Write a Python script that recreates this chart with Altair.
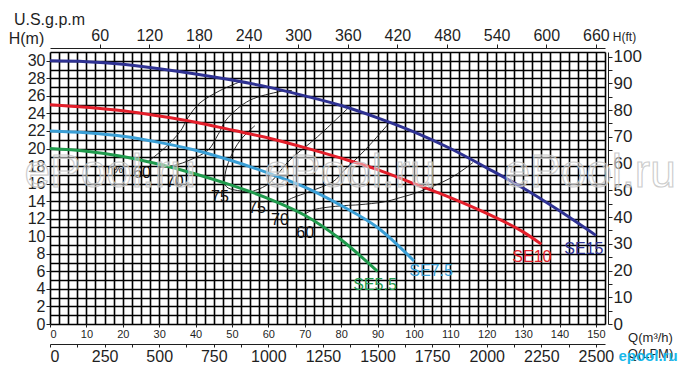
import altair as alt
import pandas as pd

FONT = "Liberation Sans"
INK = "#1f1f1f"

# ---- pump curves (Q m3/h, H m) ----
se15_q = [0, 10, 20, 30, 40, 50, 60, 70, 80, 90, 100, 110, 120, 130, 140, 150]
se15_h = [30.0, 29.9, 29.6, 29.1, 28.5, 27.8, 27.0, 26.0, 24.9, 23.5, 21.9, 20.0, 17.8, 15.5, 12.9, 10.1]
se10_q = [0, 10, 20, 30, 40, 50, 60, 70, 80, 90, 100, 110, 120, 130, 135]
se10_h = [25.0, 24.7, 24.3, 23.7, 23.0, 22.1, 21.2, 20.1, 18.9, 17.6, 16.0, 14.4, 12.6, 10.5, 9.1]
se75_q = [0, 10, 20, 30, 40, 50, 60, 70, 80, 90, 100]
se75_h = [22.0, 21.8, 21.4, 20.7, 19.8, 18.6, 17.2, 15.6, 13.5, 11.0, 7.2]
se55_q = [0, 10, 20, 30, 40, 50, 60, 70, 80, 90]
se55_h = [20.0, 19.7, 19.1, 18.2, 17.1, 15.8, 14.3, 12.4, 9.6, 6.0]

pump_names = ["SE15", "SE10", "SE7.5", "SE5.5"]
pump_colors = ["#2e3192", "#e31e2a", "#3a9fd6", "#1f9a4c"]
label_q = [146.7, 132.4, 104.7, 89.3]
label_h = [8.5, 7.6, 6.0, 4.4]

# ---- efficiency contours ----
eff60l_q = [26.9, 31.6, 35.7, 37.9, 41.2, 46.7, 52.2]
eff60l_h = [18.5, 20.1, 21.9, 23.5, 25.2, 26.6, 27.6]
eff70l_q = [29.7, 34.3, 38.5, 43.4, 46.2, 48.9, 54.9, 63.2, 66.5]
eff70l_h = [17.8, 18.1, 18.7, 19.8, 21.6, 23.5, 25.5, 26.5, 26.6]
eff75_q = [56.3, 52.2, 49.5, 48.1, 48.6, 53.3, 55.5, 60.4, 65.9, 71.4, 75.0, 81.9]
eff75_h = [22.6, 20.9, 18.9, 17.0, 15.6, 15.1, 15.1, 16.1, 18.7, 20.6, 21.9, 24.6]
eff70r_q = [64.0, 66.8, 71.4, 77.7, 81.0, 86.5, 93.4]
eff70r_h = [13.8, 14.4, 15.1, 16.2, 17.6, 19.8, 23.0]
eff60r_q = [69.5, 72.3, 76.1, 81.0, 85.2, 91.5, 96.2, 101.6, 109.9, 116.2]
eff60r_h = [12.4, 13.0, 13.3, 13.5, 13.6, 13.9, 14.4, 15.1, 16.6, 18.4]

eff_text = ["η%", "60", "70", "75", "75", "70", "60"]
eff_text_q = [17.9, 25.3, 34.3, 46.7, 56.9, 63.2, 70.1]
eff_text_h = [17.6, 17.2, 16.2, 14.5, 13.2, 11.9, 10.4]

# ---- axes ----
q_ticks = list(range(0, 151, 10))
lpm_ticks = list(range(0, 2501, 125))
gpm_ticks = list(range(60, 661, 60))
hm_ticks = list(range(0, 31, 2))
hft_ticks = list(range(0, 101, 5))
grid_q = [i * 2.5 for i in range(62)]
grid_h = list(range(0, 32))

watermark_q = [16.5, 82.4, 148.4]
watermark_h = [17.2, 17.2, 17.2]

Q_MAX = 152.5
H_MAX = 31.0
W, H = 555, 272

xs = alt.Scale(domain=[0, Q_MAX], nice=False, zero=False)
ys = alt.Scale(domain=[0, H_MAX], nice=False, zero=False)

rows = []
for name, qq, hh in [("SE15", se15_q, se15_h), ("SE10", se10_q, se10_h),
                     ("SE7.5", se75_q, se75_h), ("SE5.5", se55_q, se55_h)]:
    for a, b in zip(qq, hh):
        rows.append({"pump": name, "q": a, "h": b})
curves = pd.DataFrame(rows)

erows = []
for name, qq, hh in [("60l", eff60l_q, eff60l_h), ("70l", eff70l_q, eff70l_h),
                     ("75", eff75_q, eff75_h), ("70r", eff70r_q, eff70r_h),
                     ("60r", eff60r_q, eff60r_h)]:
    for i, (a, b) in enumerate(zip(qq, hh)):
        erows.append({"c": name, "i": i, "q": a, "h": b})
eff = pd.DataFrame(erows)

one = pd.DataFrame({"q": [0.0], "h": [0.0], "lpm": [0.0], "gpm": [0.0], "ft": [0.0]})

def blank_axis(**kw):
    base = dict(labels=False, ticks=False, domain=False, grid=False, title=None)
    base.update(kw)
    return alt.Axis(**base)

grid_layer = alt.Chart(one).mark_point(opacity=0).encode(
    x=alt.X("q:Q", scale=xs, axis=blank_axis(orient="bottom", grid=True, values=grid_q,
                                             gridColor="#000", gridWidth=1.6, gridOpacity=1)),
    y=alt.Y("h:Q", scale=ys, axis=blank_axis(orient="left", grid=True, values=grid_h,
                                             gridColor="#000", gridWidth=1.6, gridOpacity=1)),
)

q_axis_layer = alt.Chart(one).mark_point(opacity=0).encode(
    x=alt.X("q:Q", scale=xs, axis=alt.Axis(
        orient="bottom", values=q_ticks, grid=False, domain=False, tickSize=3,
        tickColor=INK, labelFontSize=11, labelFont=FONT, labelColor=INK, labelPadding=1,
        title="Q(m³/h)", titleFont=FONT, titleFontSize=13, titleFontWeight="normal",
        titleColor=INK, titleX=600, titleY=13, titleAlign="center", titleBaseline="middle")),
    y=alt.Y("h:Q", scale=ys, axis=alt.Axis(
        orient="left", values=hm_ticks, grid=False, domain=False, tickSize=4,
        tickColor=INK, labelFontSize=16, labelFont=FONT, labelColor=INK, labelPadding=1,
        title="H(m)", titleFont=FONT, titleFontSize=16, titleFontWeight="normal",
        titleColor=INK, titleAngle=0, titleX=-24, titleY=-14, titleAlign="center",
        titleBaseline="middle")),
)

lpm_layer = alt.Chart(one).mark_point(opacity=0).encode(
    x=alt.X("lpm:Q", scale=alt.Scale(domain=[0, Q_MAX * 1000 / 60], nice=False, zero=False),
            axis=alt.Axis(orient="bottom", offset=20, values=lpm_ticks, grid=False,
                          domain=True, domainColor=INK, domainWidth=1, tickSize=3,
                          tickColor=INK, labelFontSize=16, labelFont=FONT, labelColor=INK,
                          labelPadding=1, format="d",
                          labelExpr="datum.value % 250 == 0 ? datum.label : ''",
                          title="Q(LPM)", titleFont=FONT, titleFontSize=13,
                          titleFontWeight="normal", titleColor=INK, titleX=600, titleY=9,
                          titleAlign="center", titleBaseline="middle")),
)

gpm_layer = alt.Chart(one).mark_point(opacity=0).encode(
    x=alt.X("gpm:Q", scale=alt.Scale(domain=[0, Q_MAX * 4.4], nice=False, zero=False),
            axis=alt.Axis(orient="top", offset=4, values=gpm_ticks, grid=False,
                          domain=True, domainColor=INK, domainWidth=1, tickSize=4,
                          tickColor=INK, labelFontSize=16, labelFont=FONT, labelColor=INK,
                          labelPadding=1,
                          title="U.S.g.p.m", titleFont=FONT, titleFontSize=16,
                          titleFontWeight="normal", titleColor=INK, titleX=-1, titleY=-29,
                          titleAlign="center", titleBaseline="middle")),
    y=alt.Y("ft:Q", scale=alt.Scale(domain=[0, H_MAX * 3.28084], nice=False, zero=False),
            axis=alt.Axis(orient="right", offset=3, values=hft_ticks, grid=False,
                          domain=True, domainColor=INK, domainWidth=1, tickSize=4,
                          tickColor=INK, labelFontSize=17, labelFont=FONT, labelColor=INK,
                          labelPadding=1,
                          labelExpr="datum.value % 10 == 0 ? datum.label : ''",
                          title="H(ft)", titleFont=FONT, titleFontSize=12,
                          titleFontWeight="normal", titleColor=INK, titleAngle=0,
                          titleX=16, titleY=-16, titleAlign="center", titleBaseline="middle")),
)

color = alt.Color("pump:N", scale=alt.Scale(domain=pump_names, range=pump_colors), legend=None)

eff_layer = alt.Chart(eff).mark_line(color="#111", strokeWidth=0.9, interpolate="cardinal").encode(
    x=alt.X("q:Q", scale=xs, axis=None),
    y=alt.Y("h:Q", scale=ys, axis=None),
    detail="c:N",
    order="i:Q",
)

curve_layer = alt.Chart(curves).mark_line(strokeWidth=3, interpolate="monotone").encode(
    x=alt.X("q:Q", scale=xs, axis=None),
    y=alt.Y("h:Q", scale=ys, axis=None),
    color=color,
)

plabels = pd.DataFrame({"pump": pump_names, "q": label_q, "h": label_h})
plabel_layer = alt.Chart(plabels).mark_text(font=FONT, fontSize=16).encode(
    x=alt.X("q:Q", scale=xs, axis=None),
    y=alt.Y("h:Q", scale=ys, axis=None),
    text="pump:N",
    color=color,
)

etext = pd.DataFrame({"t": eff_text, "q": eff_text_q, "h": eff_text_h,
                      "s": [11, 16, 16, 16, 16, 16, 16]})
etext_layer = alt.Chart(etext).mark_text(font=FONT, color="#111").encode(
    x=alt.X("q:Q", scale=xs, axis=None),
    y=alt.Y("h:Q", scale=ys, axis=None),
    text="t:N",
    size=alt.Size("s:Q", scale=None, legend=None),
)

wm = pd.DataFrame({"q": watermark_q, "h": watermark_h, "t": ["ePool.ru"] * 3})
wm_layer = alt.Chart(wm).mark_text(
    font=FONT, fontSize=46, fill="white", fillOpacity=0.45, stroke="#c4c4c4",
    strokeWidth=1.2, strokeOpacity=0.85
).encode(
    x=alt.X("q:Q", scale=xs, axis=None),
    y=alt.Y("h:Q", scale=ys, axis=None),
    text="t:N",
)

logo_layer = alt.Chart(pd.DataFrame({"t": ["epool.ru"]})).mark_text(
    font=FONT, fontSize=15, fontWeight="bold", color="#1ab8ea", align="center",
    baseline="middle"
).encode(
    x=alt.value(598), y=alt.value(304), text="t:N"
)

chart = alt.layer(
    grid_layer, q_axis_layer, lpm_layer, gpm_layer,
    eff_layer, curve_layer, plabel_layer, etext_layer, wm_layer, logo_layer
).resolve_scale(
    x="independent", y="independent"
).properties(
    width=W, height=H,
    padding={"left": 42, "top": 44, "right": 75, "bottom": 49},
    autosize=alt.AutoSizeParams(type="none"),
).configure_view(
    stroke="#000", strokeWidth=1.5
).configure(background="white")

chart.save("out.html", embed_options={"renderer": "svg", "actions": False})
